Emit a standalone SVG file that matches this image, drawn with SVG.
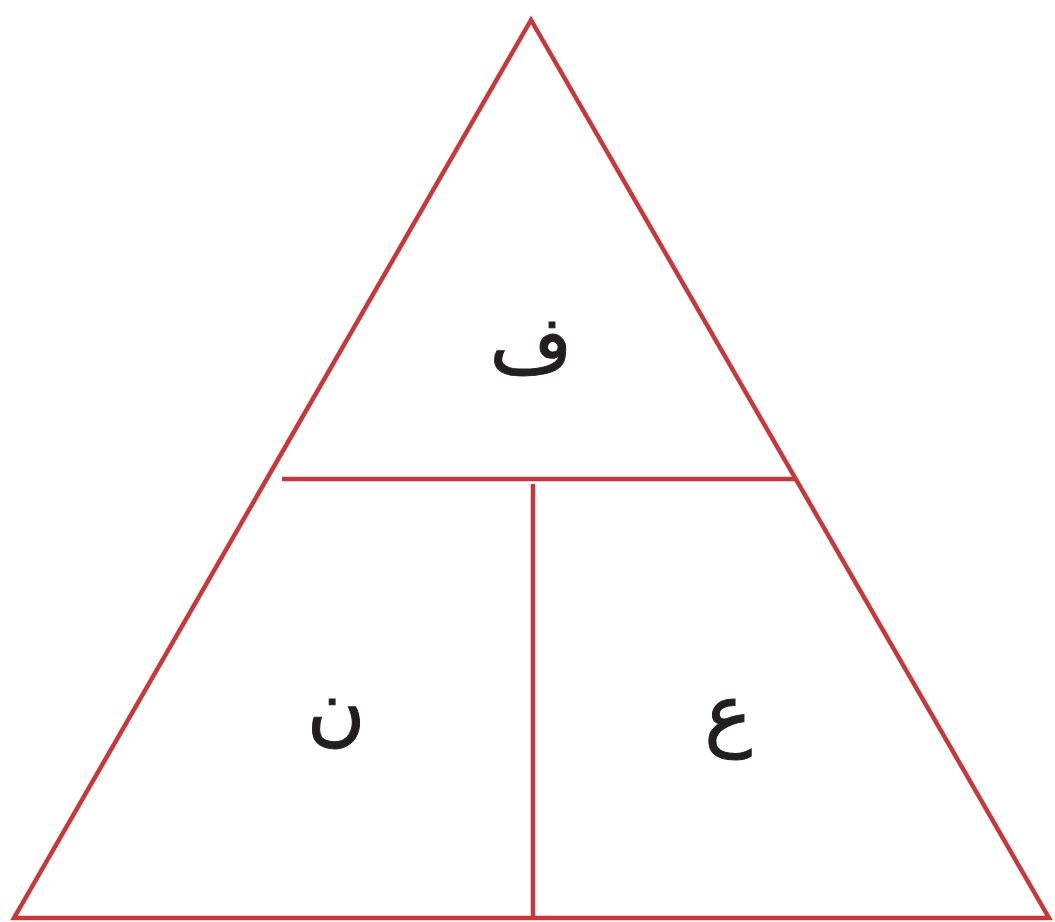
<svg xmlns="http://www.w3.org/2000/svg" width="1055" height="922" viewBox="0 0 1055 922">
<style>
.ln{stroke:#c8383a;stroke-width:4.5;fill:none;stroke-linejoin:miter}
.lb{font-family:"DejaVu Sans",sans-serif;font-size:80px;fill:#231f20;text-anchor:middle;stroke:#231f20;stroke-width:1}
</style>
<rect width="1055" height="922" fill="#ffffff"/>
<g id="connectors">
<polygon class="ln" points="531,20 14,918 1049,918"/>
<line class="ln" x1="282" y1="479" x2="795" y2="479"/>
<line class="ln" x1="533" y1="484" x2="533" y2="918"/>
</g>
<g id="node-top"><text class="lb" x="531" y="372">ف</text></g>
<g id="node-left"><text class="lb" x="336" y="736">ن</text></g>
<g id="node-right"><text class="lb" x="728" y="740">ع</text></g>
</svg>
